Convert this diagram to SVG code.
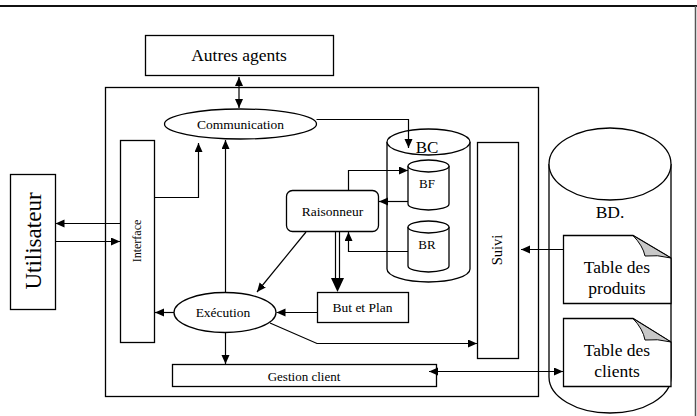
<svg xmlns="http://www.w3.org/2000/svg" width="697" height="416" viewBox="0 0 697 416">
<style>
.s{fill:#fff;stroke:#000;stroke-width:1.3}
.n{fill:none;stroke:#000;stroke-width:1.3}
.c{fill:none;stroke:#000;stroke-width:1.2}
.t{font-family:"Liberation Serif","Times New Roman",serif;fill:#000;text-anchor:middle}
.fold{fill:#c8c8c8;stroke:#000;stroke-width:1}
</style>
<defs>
<marker id="a" markerUnits="userSpaceOnUse" markerWidth="10" markerHeight="10" refX="9" refY="4" orient="auto-start-reverse">
<path d="M0,0 L9,4 L0,8 Z" fill="#000"/>
</marker>
</defs>
<rect width="697" height="416" fill="#fff"/>
<g id="frame">
<line x1="0" y1="6" x2="697" y2="6" stroke="#111" stroke-width="2.2"/>
<line x1="695.5" y1="6" x2="695.5" y2="416" stroke="#555" stroke-width="1.5"/>
</g>
<g id="agent">
<rect class="s" x="105.5" y="87.5" width="433" height="309"/>
</g>
<g id="autres-agents">
<rect class="s" x="145.5" y="35.5" width="188" height="40"/>
<text class="t" x="239" y="61" font-size="17.5">Autres agents</text>
</g>
<g id="utilisateur">
<rect class="s" x="10.5" y="174.5" width="45" height="135"/>
<text class="t" transform="translate(41,241) rotate(-90)" font-size="23">Utilisateur</text>
</g>
<g id="interface">
<rect class="s" x="120.5" y="140.5" width="34" height="202"/>
<text class="t" transform="translate(141,241) rotate(-90)" font-size="12">Interface</text>
</g>
<g id="communication">
<ellipse class="s" cx="240.5" cy="124" rx="76" ry="15"/>
<text class="t" x="240.5" y="129" font-size="13.5">Communication</text>
</g>
<g id="bc">
<path class="s" d="M387,142 V269 A41.5,13 0 0 0 470,269 V142"/>
<ellipse class="s" cx="428.5" cy="142" rx="41.5" ry="13"/>
<text class="t" x="427" y="153" font-size="17">BC</text>
</g>
<g id="bf">
<path class="s" d="M408,166 V204 A20.5,6 0 0 0 449,204 V166"/>
<ellipse class="s" cx="428.5" cy="166" rx="20.5" ry="6"/>
<text class="t" x="427" y="188" font-size="13">BF</text>
</g>
<g id="br">
<path class="s" d="M408,227 V266 A20.5,6 0 0 0 449,266 V227"/>
<ellipse class="s" cx="428.5" cy="227" rx="20.5" ry="6"/>
<text class="t" x="427" y="249" font-size="13">BR</text>
</g>
<g id="raisonneur">
<rect class="s" x="286.5" y="190.5" width="92" height="41" rx="6"/>
<text class="t" x="332.5" y="216" font-size="13.5">Raisonneur</text>
</g>
<g id="but-et-plan">
<rect class="s" x="317.5" y="292.5" width="91" height="30"/>
<text class="t" x="362.5" y="312" font-size="13.5">But et Plan</text>
</g>
<g id="execution">
<ellipse class="s" cx="225" cy="312.5" rx="51" ry="20"/>
<text class="t" x="223" y="317" font-size="13.5">Exécution</text>
</g>
<g id="suivi">
<rect class="s" x="477.5" y="142.5" width="41" height="216"/>
<text class="t" transform="translate(502,250) rotate(-90)" font-size="14.5">Suivi</text>
</g>
<g id="gestion-client">
<rect class="s" x="172.5" y="364.5" width="264" height="22"/>
<text class="t" x="304" y="381" font-size="13">Gestion client</text>
</g>
<g id="bd">
<path class="s" d="M549,164 V377 A61,36 0 0 0 671,377 V164"/>
<ellipse class="s" cx="610" cy="164" rx="61" ry="36"/>
<text class="t" x="610" y="218" font-size="17.5">BD.</text>
</g>
<g id="table-produits">
<path class="s" d="M563.5,235.5 H633 L671,258 V303.5 H563.5 Z"/>
<path class="fold" d="M633,235.5 Q643,246 645,256 Q657,254.5 671,258 Z"/>
<text class="t" x="617" y="273" font-size="17.5">Table des</text>
<text class="t" x="617" y="294" font-size="17.5">produits</text>
</g>
<g id="table-clients">
<path class="s" d="M563.5,318.5 H633 L671,342 V386.5 H563.5 Z"/>
<path class="fold" d="M633,318.5 Q643,329 645,340 Q657,338.5 671,342 Z"/>
<text class="t" x="617" y="356" font-size="17.5">Table des</text>
<text class="t" x="617" y="377" font-size="17.5">clients</text>
</g>
<g id="connectors">
<line class="c" x1="239" y1="77" x2="239" y2="108" marker-start="url(#a)" marker-end="url(#a)"/>
<polyline class="c" points="316.5,119.5 408.5,119.5 408.5,148" marker-end="url(#a)"/>
<polyline class="c" points="154.5,197.5 198.5,197.5 198.5,143" marker-end="url(#a)"/>
<line class="c" x1="225.5" y1="292.5" x2="225.5" y2="140" marker-end="url(#a)"/>
<line class="c" x1="120.5" y1="223.5" x2="55.5" y2="223.5" marker-end="url(#a)"/>
<line class="c" x1="55.5" y1="241.5" x2="120" y2="241.5" marker-end="url(#a)"/>
<polyline class="c" points="348.5,190.5 348.5,170.5 408,170.5" marker-end="url(#a)"/>
<line class="c" x1="408" y1="201.5" x2="379" y2="201.5" marker-end="url(#a)"/>
<polyline class="c" points="408,251.5 348.5,251.5 348.5,232" marker-end="url(#a)"/>
<line class="c" x1="335.5" y1="231.5" x2="335.5" y2="280"/>
<line class="c" x1="339.5" y1="231.5" x2="339.5" y2="280"/>
<path d="M331,278 L344,278 L337.5,292 Z" fill="#000"/>
<line class="c" x1="306" y1="232" x2="257" y2="292" marker-end="url(#a)"/>
<line class="c" x1="317" y1="312.5" x2="276.5" y2="312.5" marker-end="url(#a)"/>
<line class="c" x1="174" y1="312.5" x2="155" y2="312.5" marker-end="url(#a)"/>
<polyline class="c" points="270,323 317,343.5 477,343.5" marker-end="url(#a)"/>
<line class="c" x1="225.5" y1="333" x2="225.5" y2="364" marker-end="url(#a)"/>
<line class="c" x1="563" y1="249.5" x2="521" y2="249.5" marker-end="url(#a)"/>
<line class="c" x1="429" y1="371.5" x2="563" y2="371.5" marker-start="url(#a)" marker-end="url(#a)"/>
</g>
</svg>
